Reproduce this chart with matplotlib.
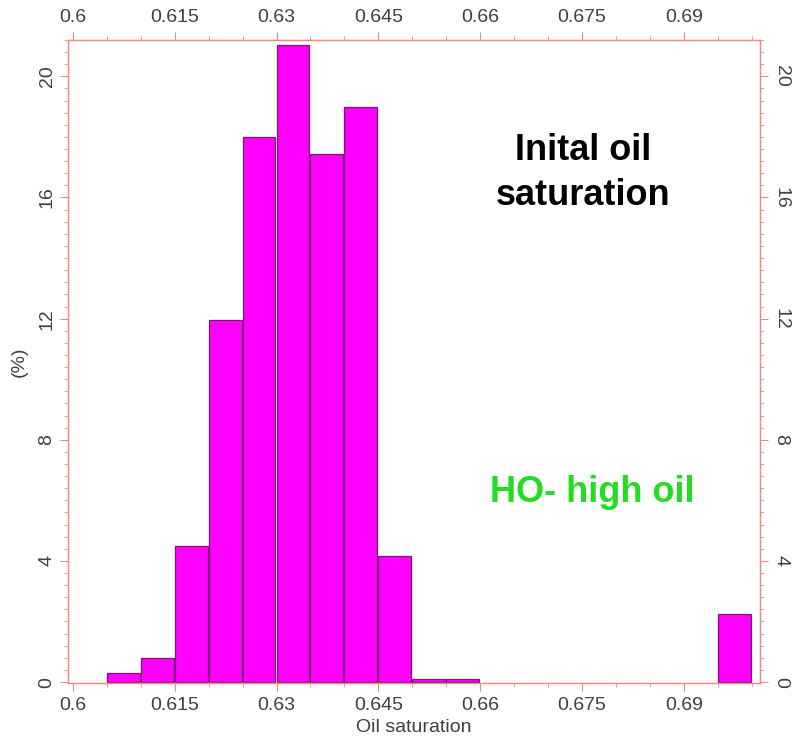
import numpy as np
import matplotlib
matplotlib.use("Agg")
from matplotlib import pyplot as plt
from matplotlib.ticker import MultipleLocator

plt.rcParams['font.family'] = ['Liberation Sans', 'DejaVu Sans']

# histogram of oil saturation (bin width 0.005)
bin_left = [0.605, 0.610, 0.615, 0.620, 0.625, 0.630, 0.635, 0.640, 0.645, 0.650, 0.655, 0.695]
pct = [0.3, 0.8, 4.5, 11.95, 18.0, 21.05, 17.45, 19.0, 4.15, 0.1, 0.1, 2.25]
bin_w = 0.005
xticks = [0.6, 0.615, 0.63, 0.645, 0.66, 0.675, 0.69]
yticks = [0, 4, 8, 12, 16, 20]

spine_col = '#f08a8a'
lab_col = '#404040'

fig = plt.figure(figsize=(7.92, 7.41), dpi=100)
ax = fig.add_axes([0.0859, 0.0783, 0.8737, 0.8677])

ax.bar(bin_left, pct, width=bin_w * 0.97, align='edge', color='#ff00ff',
       edgecolor='#7a157a', linewidth=0.9, zorder=2)

ax.set_xlim(0.5993, 0.7012)
ax.set_ylim(-0.03, 21.2)

for s in ax.spines.values():
    s.set_color(spine_col)
    s.set_linewidth(1.0)

ax.set_xticks(xticks)
ax.set_xticklabels([('%g' % t) for t in xticks])
ax.xaxis.set_minor_locator(MultipleLocator(0.005))
ax.set_yticks(yticks)
ax.yaxis.set_minor_locator(MultipleLocator(0.4))

ax.tick_params(axis='x', which='both', top=True, labeltop=True, direction='out',
               color=spine_col, labelcolor=lab_col, labelsize=14, pad=4)
ax.tick_params(axis='x', which='major', length=6)
ax.tick_params(axis='x', which='minor', length=3)
ax.tick_params(axis='y', which='both', direction='out', color=spine_col,
               labelcolor=lab_col, labelsize=14, pad=3)
ax.tick_params(axis='y', which='major', length=6)
ax.tick_params(axis='y', which='minor', length=3)
for lab in ax.get_yticklabels():
    lab.set_rotation(90)
    lab.set_va('center')

ax2 = ax.twinx()
ax2.set_ylim(ax.get_ylim())
ax2.set_yticks(yticks)
ax2.yaxis.set_minor_locator(MultipleLocator(0.4))
ax2.tick_params(axis='y', which='both', direction='out', color=spine_col,
                labelcolor=lab_col, labelsize=14, pad=3)
ax2.tick_params(axis='y', which='major', length=6)
ax2.tick_params(axis='y', which='minor', length=3)
for lab in ax2.get_yticklabels():
    lab.set_rotation(-90)
    lab.set_va('center')
for s in ax2.spines.values():
    s.set_color(spine_col)

ax.set_xlabel('Oil saturation', fontsize=14, color=lab_col, labelpad=4)
ax.set_ylabel('(%)', fontsize=14, color=lab_col, labelpad=8)

ax.text(0.744, 0.793, 'Inital oil\nsaturation', transform=ax.transAxes,
        ha='center', va='center', fontsize=26, fontweight='bold',
        color='black', linespacing=1.35)
ax.text(0.757, 0.296, 'HO- high oil', transform=ax.transAxes,
        ha='center', va='center', fontsize=26, fontweight='bold',
        color='#22dd22')

fig.savefig('out.png', dpi=100)
